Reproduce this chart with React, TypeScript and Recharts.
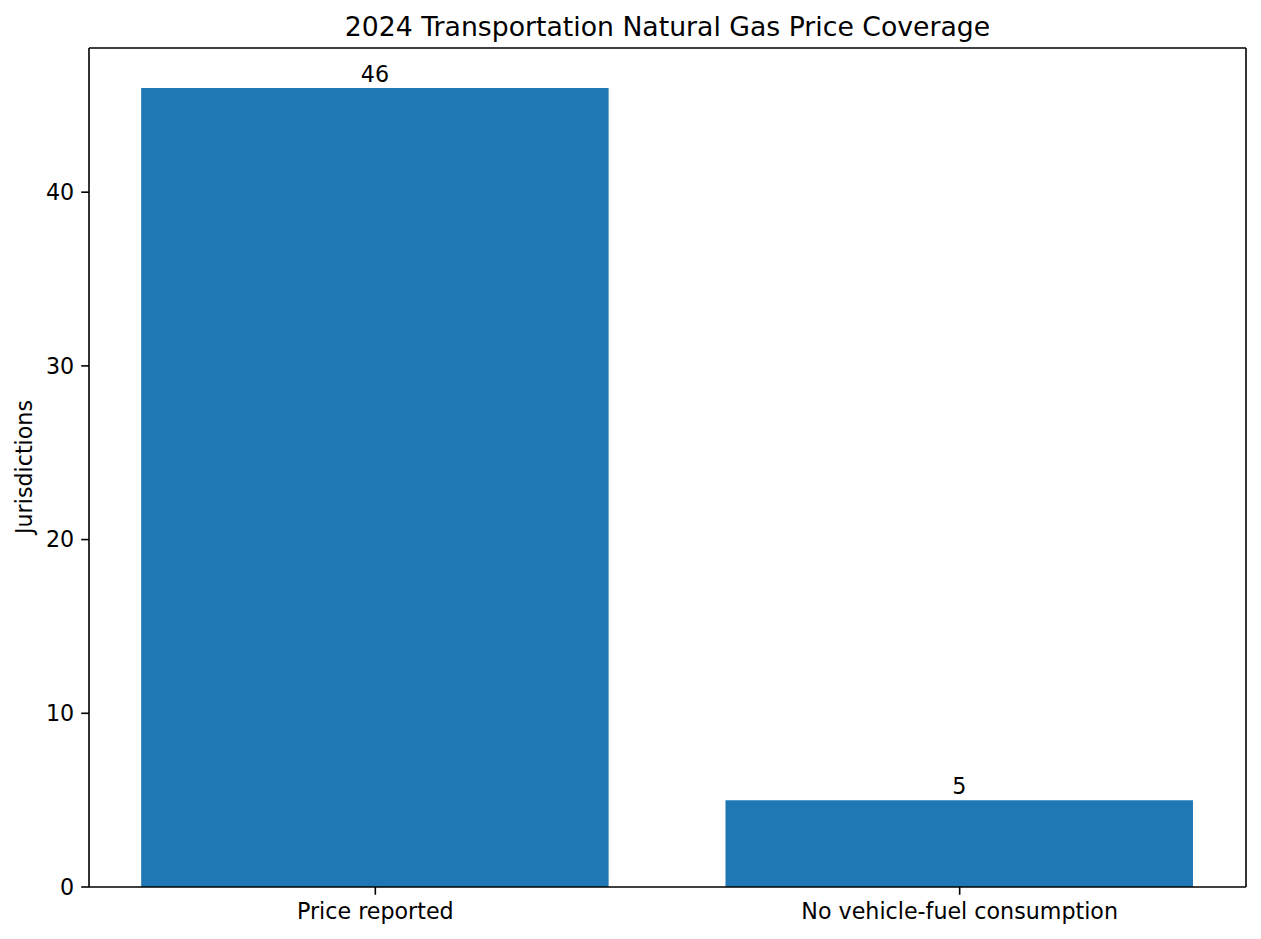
import { BarChart, Bar, XAxis, YAxis, LabelList, ReferenceLine } from "recharts";

const categories = ["Price reported", "No vehicle-fuel consumption"];
const jurisdictions = [46, 5];
const yTicks = [0, 10, 20, 30, 40];

const W = 1261;
const H = 939;
const PLOT_LEFT = 89;
const PLOT_RIGHT = 15;
const PLOT_TOP = 48;
const X_AXIS_H = 52;
const X_DOMAIN: [number, number] = [-0.49, 1.49];
const Y_MAX = 48.3;
const BAR_SIZE = ((W - PLOT_LEFT - PLOT_RIGHT) / (X_DOMAIN[1] - X_DOMAIN[0])) * 0.8;

const font = "DejaVu Sans, sans-serif";
const tickFont = 22.2;
const axisStroke = { stroke: "#000", strokeWidth: 1.6 };

const rows = categories.map((name, i) => ({ pos: i, name, value: jurisdictions[i] }));

export default function App() {
  return (
    <div style={{ position: "absolute", left: 0, top: 0, width: W, height: H, background: "#fff", fontFamily: font }}>
      <div style={{ position: "absolute", left: PLOT_LEFT, right: PLOT_RIGHT, top: 11, textAlign: "center", fontSize: 26.7, lineHeight: "32px", color: "#000" }}>
        2024 Transportation Natural Gas Price Coverage
      </div>
      <div style={{ position: "absolute", left: 24, top: 467, width: 0, height: 0 }}>
        <div style={{ position: "absolute", transform: "translate(-50%, -50%) rotate(-90deg)", fontSize: tickFont, whiteSpace: "nowrap", color: "#000" }}>
          Jurisdictions
        </div>
      </div>
      <BarChart width={W} height={H} data={rows} margin={{ top: PLOT_TOP, right: PLOT_RIGHT, bottom: 0, left: 0 }}>
        <XAxis
          dataKey="pos"
          type="number"
          domain={X_DOMAIN}
          ticks={[0, 1]}
          tickFormatter={(v: number) => categories[v] ?? ""}
          height={X_AXIS_H}
          tickSize={7.8}
          tickMargin={8}
          axisLine={axisStroke}
          tickLine={axisStroke}
          tick={{ fill: "#000", fontSize: tickFont, fontFamily: font }}
          allowDataOverflow
        />
        <YAxis
          type="number"
          domain={[0, Y_MAX]}
          ticks={yTicks}
          width={PLOT_LEFT}
          tickSize={7.8}
          tickMargin={7}
          axisLine={axisStroke}
          tickLine={axisStroke}
          tick={{ fill: "#000", fontSize: tickFont, fontFamily: font }}
          allowDataOverflow
        />
        <ReferenceLine y={Y_MAX} stroke="#000" strokeWidth={1.6} />
        <ReferenceLine x={X_DOMAIN[1]} stroke="#000" strokeWidth={1.6} />
        <Bar dataKey="value" fill="#1f77b4" barSize={BAR_SIZE} isAnimationActive={false}>
          <LabelList dataKey="value" position="top" offset={6} fill="#000" fontSize={tickFont} fontFamily={font} />
        </Bar>
      </BarChart>
    </div>
  );
}
